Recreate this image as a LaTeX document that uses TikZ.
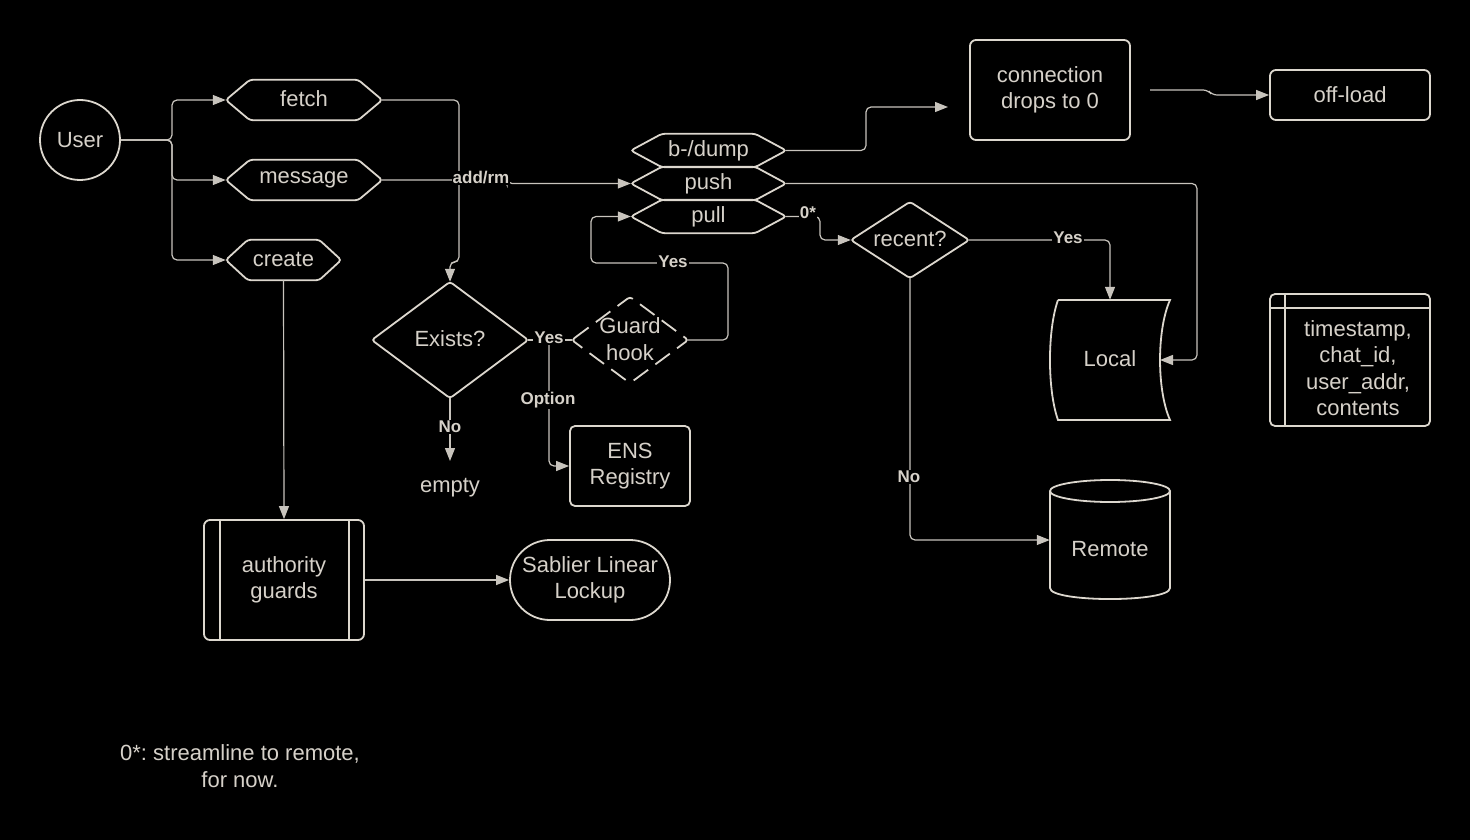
\documentclass[tikz,border=0pt]{standalone}
\usepackage{fontspec}
\setmainfont{Liberation Sans}
\usetikzlibrary{arrows.meta}
\definecolor{ln}{RGB}{220,215,206}
\definecolor{cn}{RGB}{200,196,189}
\definecolor{tx}{RGB}{214,209,201}
\newcommand\hexnode[7]{%
  \node[txt, minimum width=#4, minimum height=#5] (#1) at (#2,#3) {#7};
  \draw[shp, rounded corners=3pt] (#1.west) -- ([xshift=#6]#1.north west) -- ([xshift=-#6]#1.north east) -- (#1.east) -- ([xshift=-#6]#1.south east) -- ([xshift=#6]#1.south west) -- cycle;}
\newcommand\diamnode[7]{%
  \node[txt, minimum width=#4, minimum height=#5, text depth=2pt] (#1) at (#2,#3) {#6};
  \draw[shp, rounded corners=3pt, #7] (#1.west) -- (#1.north) -- (#1.east) -- (#1.south) -- cycle;}
\frenchspacing
\begin{document}
\begin{tikzpicture}[x=1pt,y=-1pt,
  shp/.style={draw=ln, line width=1.8pt},
  conn/.style={draw=cn, line width=1.2pt, rounded corners=5pt, -{Triangle[length=13pt,width=10pt]}},
  plain/.style={draw=cn, line width=1.2pt, rounded corners=5pt},
  lbl/.style={fill=black, text=tx, font=\fontsize{17}{20}\selectfont\bfseries, inner sep=1pt},
  txt/.style={text=tx, font=\fontsize{22}{26.5}\selectfont, align=center, inner sep=0pt}]
\fill[black] (0,0) rectangle (1470,840);
\useasboundingbox (0,0) rectangle (1470,840);

% nodes
\node[shp, circle, minimum size=80, txt] (user) at (80,140) {User};
\hexnode{fetch}{304}{100}{156}{40}{24}{\raisebox{2pt}{fetch}}
\hexnode{message}{304}{180}{156}{40}{24}{message}
\hexnode{create}{283.5}{260}{115}{40}{22}{\raisebox{1pt}{create}}
\hexnode{dump}{708.5}{150.5}{155}{33}{31}{b-/dump}
\hexnode{push}{708.5}{183.5}{155}{33}{31}{push}
\hexnode{pull}{708.5}{216.5}{155}{33}{31}{pull}
\diamnode{exists}{450}{340}{156}{116}{Exists?}{}
\diamnode{guard}{630}{340}{116}{86}{Guard\\hook}{dash pattern=on 18pt off 9pt}
\diamnode{recent}{910}{240}{118}{76}{recent?}{}
\node[shp, rounded corners=5pt, minimum width=120, minimum height=80, txt] (ens) at (630,466) {ENS\\Registry};
\node[txt] (empty) at (450,488) {empty};
\node[shp, rounded corners=6pt, minimum width=160, minimum height=120, txt] (auth) at (284,580) {authority\\guards};
\draw[shp] ([xshift=17]auth.north west) -- ([xshift=17]auth.south west);
\draw[shp] ([xshift=-16]auth.north east) -- ([xshift=-16]auth.south east);
\node[shp, rounded corners=40pt, minimum width=160, minimum height=80, txt] (sab) at (590,580) {Sablier Linear\\Lockup};
\node[shp, rounded corners=6pt, minimum width=160, minimum height=100, txt] (connbox) at (1050,90) {connection\\drops to 0};
\node[shp, rounded corners=6pt, minimum width=160, minimum height=50, txt] (offload) at (1350,95) {off-load};
% Local
\node[minimum width=120, minimum height=120, txt, text depth=3pt] (local) at (1110,360) {Local};
\draw[shp] (1058,300) -- (1170,300) .. controls (1156.7,330) and (1156.7,390) .. (1170,420) -- (1058,420) .. controls (1047.3,390) and (1047.3,330) .. (1058,300);
% Remote
\node[minimum width=120, minimum height=120, label={[txt, yshift=-9pt]center:Remote}] (remote) at (1110,540) {};
\draw[shp] (1110,491) ellipse [x radius=60, y radius=11];
\draw[shp] (1050,491) -- (1050,588) .. controls (1050,602.7) and (1170,602.7) .. (1170,588) -- (1170,491);
% storage
\node[shp, rounded corners=5pt, minimum width=160, minimum height=132, label={[txt, xshift=8pt, yshift=-8pt]center:{timestamp,\\chat\_id,\\user\_addr,\\contents}}] (store) at (1350,360) {};
\draw[shp] ([xshift=16]store.north west) -- ([xshift=16]store.south west);
\draw[shp] ([yshift=-15]store.north west) -- ([yshift=-15]store.north east);
\node[txt] (note) at (240,766) {0*: streamline to remote,\\for now.};

% coordinates
\coordinate (ub) at (172,140);
\coordinate (fd) at (459,262);
\coordinate (yesp) at (549,340);
\coordinate (gq) at (728,263);
\coordinate (gp) at (591,263);
\coordinate (localin) at (1160,360);
\coordinate (dumpto) at (948,107);
\coordinate (cfrom) at (1150,90);
\coordinate (emptyin) at (450,461);

% connectors
\draw[conn] (user.east) -- (ub) |- (fetch.west);
\draw[conn] (user.east) -- (ub) |- (message.west);
\draw[conn] (user.east) -- (ub) |- (create.west);
\draw[conn] (fetch.east) -| (fd) -- (fd -| exists.north) -- (exists.north);
\draw[conn] (message.east) -- (507,180) |- (push.west);
\draw[conn] (dump.east) -- (866,150.5) |- (dumpto);
\draw[conn] (cfrom) -- (1208,90) -- (1212,95) -- (offload.west);
\draw[conn] (push.east) -| (1197,300) |- (localin);
\draw[conn] (pull.east) -- (820,216.5) |- (recent.west);
\draw[conn] (recent.east) -| (local.north);
\draw[conn] (recent.south) |- (remote.west);
\draw[plain] (exists.east) -- (guard.west);
\draw[conn] (yesp) |- (ens.west);
\draw[conn] (guard.east) -| (gq) -- (gp) |- (pull.west);
\draw[conn] (exists.south) -- (emptyin);
\draw[conn] (create.south) -- (auth.north);
\draw[conn] (auth.east) -- (sab.west);

% labels
\node[lbl] (l1) at (481,178) {add/rm};
\node[lbl] (l2) at (808,213) {0*};
\node[lbl] (l3) at (549,338) {Yes};
\node[lbl] (l4) at (673,262) {Yes};
\node[lbl] (l5) at (1068,238) {Yes};
\node[lbl] (l6) at (450,427) {No};
\node[lbl] (l7) at (909,477) {No};
\node[lbl] (l8) at (548,400) {Option};
\end{tikzpicture}
\end{document}
